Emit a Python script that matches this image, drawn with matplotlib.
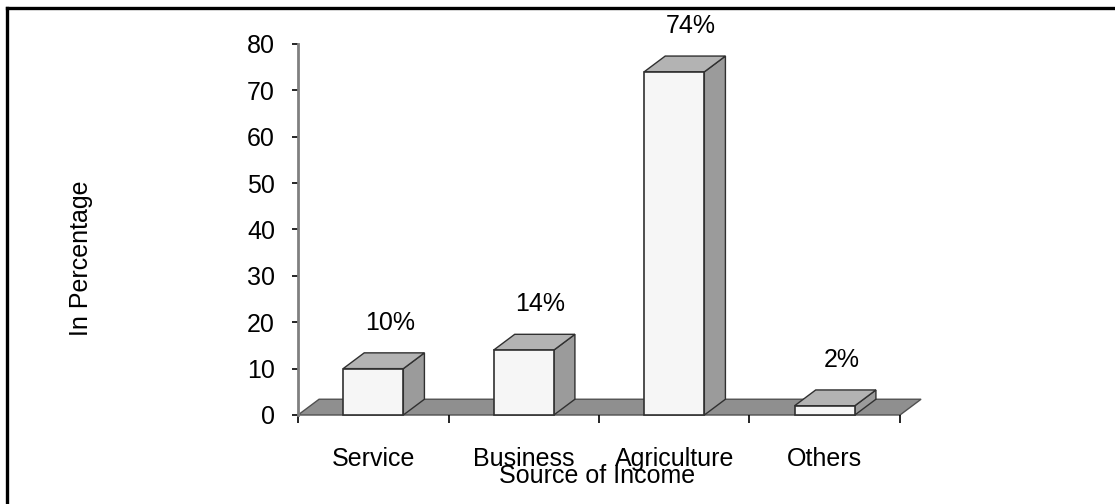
import matplotlib
matplotlib.use("Agg")
import matplotlib.pyplot as plt
from matplotlib.patches import Polygon
from matplotlib.lines import Line2D

categories = ["Service", "Business", "Agriculture", "Others"]
shares = [10, 14, 74, 2]
value_labels = ["10%", "14%", "74%", "2%"]
y_ticks = [0, 10, 20, 30, 40, 50, 60, 70, 80]

plt.rcParams["font.family"] = ["Liberation Sans", "DejaVu Sans"]
FS = 18

BAR_W = 0.4
DX, DY = 0.14, 3.4   # fake 3d depth (x units, y units)
EDGE = "#303030"

fig = plt.figure(figsize=(11.15, 5.04), dpi=100)
ax = fig.add_axes([298 / 1115, 89 / 504, 602 / 1115, 371 / 504])
ax.set_xlim(0, len(categories))
ax.set_ylim(0, 80)

# floor
floor = Polygon([(0, 0), (len(categories), 0), (len(categories) + DX, DY), (DX, DY)],
                closed=True, facecolor="#8f8f8f", edgecolor="#505050", lw=1.0,
                clip_on=False, zorder=1)
ax.add_patch(floor)

# bars: front, top and right side faces
for i, v in enumerate(shares):
    x0 = i + 0.5 - BAR_W / 2
    x1 = x0 + BAR_W
    front = Polygon([(x0, 0), (x1, 0), (x1, v), (x0, v)], closed=True,
                    facecolor="#f6f6f6", edgecolor=EDGE, lw=1.2, clip_on=False, zorder=3)
    top = Polygon([(x0, v), (x1, v), (x1 + DX, v + DY), (x0 + DX, v + DY)], closed=True,
                  facecolor="#b3b3b3", edgecolor=EDGE, lw=1.0, clip_on=False, zorder=3)
    side = Polygon([(x1, 0), (x1 + DX, DY), (x1 + DX, v + DY), (x1, v)], closed=True,
                   facecolor="#9b9b9b", edgecolor=EDGE, lw=1.0, clip_on=False, zorder=3)
    for p in (side, top, front):
        ax.add_patch(p)
    ax.annotate(value_labels[i], xy=(i + 0.5, v), xytext=(12, 33),
                textcoords="offset points", ha="center", va="center",
                fontsize=FS, annotation_clip=False)

for s in ("top", "right", "bottom"):
    ax.spines[s].set_visible(False)
ax.spines["left"].set_color("#808080")
ax.spines["left"].set_linewidth(2)

ax.set_yticks(y_ticks)
ax.tick_params(axis="y", length=4.5, width=1.2, color="black", pad=12, labelsize=FS)

ax.set_xticks(range(len(categories) + 1))
ax.set_xticklabels([])
ax.set_xticks([i + 0.5 for i in range(len(categories))], minor=True)
ax.set_xticklabels(categories, minor=True)
ax.tick_params(axis="x", which="major", length=6, width=1.2, color="black", direction="out")
ax.tick_params(axis="x", which="minor", length=0, pad=23, labelsize=FS)

ax.set_ylabel("In Percentage", fontsize=FS)
ax.yaxis.set_label_coords(-0.3405, 0.423)
ax.set_xlabel("Source of Income", fontsize=FS, va="center")
ax.xaxis.set_label_coords(0.4967, -0.165)

# outer border
fig.add_artist(Line2D([7 / 1115, 7 / 1115], [0, 1 - 8 / 504], transform=fig.transFigure,
                      color="black", lw=2.4, solid_capstyle="projecting"))
fig.add_artist(Line2D([7 / 1115, 1], [1 - 8 / 504, 1 - 8 / 504], transform=fig.transFigure,
                      color="black", lw=2.4, solid_capstyle="projecting"))

fig.savefig("out.png", dpi=100)
